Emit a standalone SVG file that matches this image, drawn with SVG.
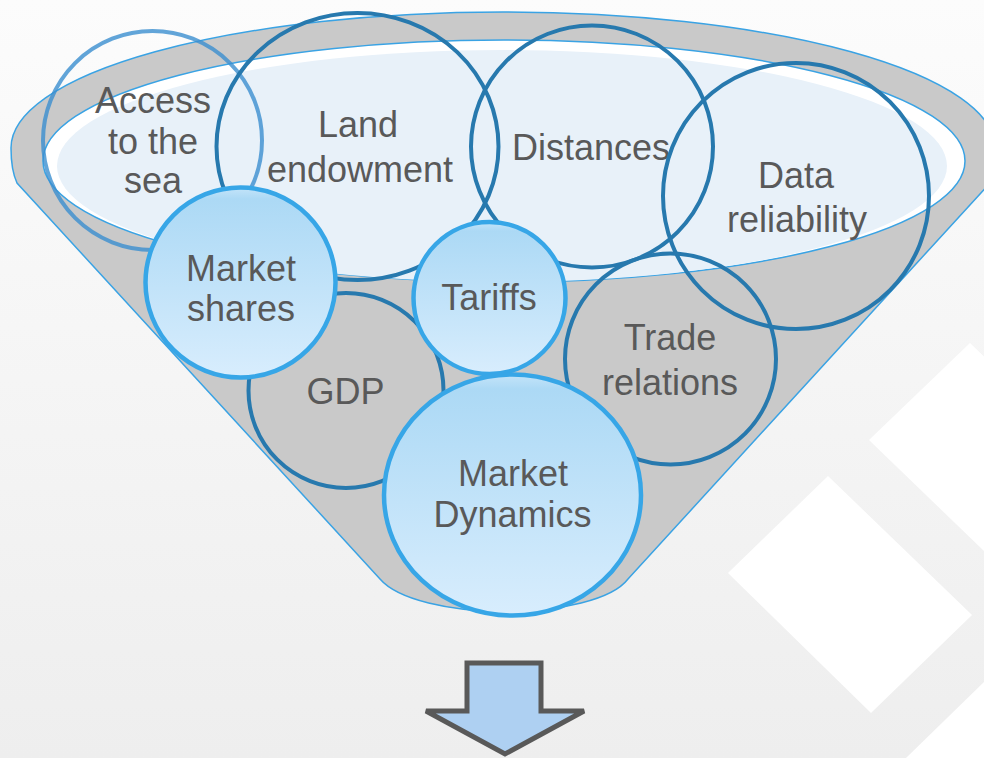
<svg xmlns="http://www.w3.org/2000/svg" width="984" height="758" viewBox="0 0 984 758">
  <defs>
    <linearGradient id="bg" x1="0" y1="0" x2="0" y2="1">
      <stop offset="0" stop-color="#fcfcfc"/>
      <stop offset="1" stop-color="#eeeeee"/>
    </linearGradient>
    <linearGradient id="bubble" x1="0" y1="0" x2="0" y2="1">
      <stop offset="0" stop-color="#c4e4f9"/>
      <stop offset="0.06" stop-color="#acd9f5"/>
      <stop offset="1" stop-color="#d8edfd"/>
    </linearGradient>
    <style>
      .lbl { font-family: "Liberation Sans", Arial, sans-serif; font-size: 36px; fill: #595959; text-anchor: middle; }
      .ring { fill: none; stroke: #2779ae; stroke-width: 4; }
      .ring-soft { fill: none; stroke: #3b8fd0; stroke-opacity: 0.8; stroke-width: 4; }
      .bubble { fill: url(#bubble); stroke: #37a6e7; stroke-width: 4.5; }
      .rim { stroke: #3aa3e4; stroke-width: 1.5; }
    </style>
  </defs>

  <!-- backdrop with faint white tiles -->
  <rect x="0" y="0" width="984" height="758" fill="url(#bg)"/>
  <g fill="#ffffff">
    <polygon points="728,573 828,476 972,615 871,713"/>
    <polygon points="869,440 970,343 1114,482 1013,579"/>
    <polygon points="906,758 984,682 990,682 990,758"/>
  </g>

  <!-- funnel body -->
  <g id="funnel">
    <path class="rim" fill="#c9c9c9" d="M 17,183 Q 11,170 11,148 A 492 136 0 0 1 995,148 Q 995,170 990,183 L 628,579 C 612,600 560,611 505,612 C 450,611 398,600 380,579 Z"/>
    <ellipse class="rim" cx="504" cy="161" rx="461" ry="121" fill="#ffffff"/>
    <ellipse cx="502" cy="166" rx="445" ry="116" fill="#e8f1f9"/>
  </g>

  <!-- outlined factors -->
  <g id="access-to-sea">
    <circle class="ring-soft" cx="152.5" cy="140.5" r="109.5"/>
    <text class="lbl" x="153" y="113">Access</text>
    <text class="lbl" x="153" y="154">to the</text>
    <text class="lbl" x="153" y="193">sea</text>
  </g>
  <g id="land-endowment">
    <ellipse class="ring" cx="357.5" cy="146.5" rx="141" ry="133.5"/>
    <text class="lbl" x="358" y="137">Land</text>
    <text class="lbl" x="360" y="182">endowment</text>
  </g>
  <g id="distances">
    <circle class="ring" cx="592" cy="146.5" r="121"/>
    <text class="lbl" x="591" y="160">Distances</text>
  </g>
  <g id="data-reliability">
    <circle class="ring" cx="796" cy="196" r="133"/>
    <text class="lbl" x="796" y="188">Data</text>
    <text class="lbl" x="797" y="232">reliability</text>
  </g>
  <g id="trade-relations">
    <circle class="ring" cx="670.5" cy="359" r="105.5"/>
    <text class="lbl" x="670" y="350">Trade</text>
    <text class="lbl" x="670" y="395">relations</text>
  </g>
  <g id="gdp">
    <circle class="ring" cx="346" cy="390.5" r="97.5"/>
    <text class="lbl" x="345.5" y="404">GDP</text>
  </g>

  <!-- highlighted factors -->
  <g id="market-shares">
    <circle class="bubble" cx="240.5" cy="282.5" r="95"/>
    <text class="lbl" x="241" y="281">Market</text>
    <text class="lbl" x="241" y="321">shares</text>
  </g>
  <g id="tariffs">
    <circle class="bubble" cx="489.5" cy="298" r="76"/>
    <text class="lbl" x="489" y="310">Tariffs</text>
  </g>
  <g id="market-dynamics">
    <ellipse class="bubble" cx="512.5" cy="495" rx="128.5" ry="120.5"/>
    <text class="lbl" x="513" y="486">Market</text>
    <text class="lbl" x="512.5" y="527">Dynamics</text>
  </g>

  <!-- output arrow -->
  <g id="connectors">
    <polygon points="467,663 541,663 541,711 584,711 505,754 426,711 467,711" fill="#aed0f2" stroke="#595959" stroke-width="5" stroke-linejoin="miter"/>
  </g>
</svg>
